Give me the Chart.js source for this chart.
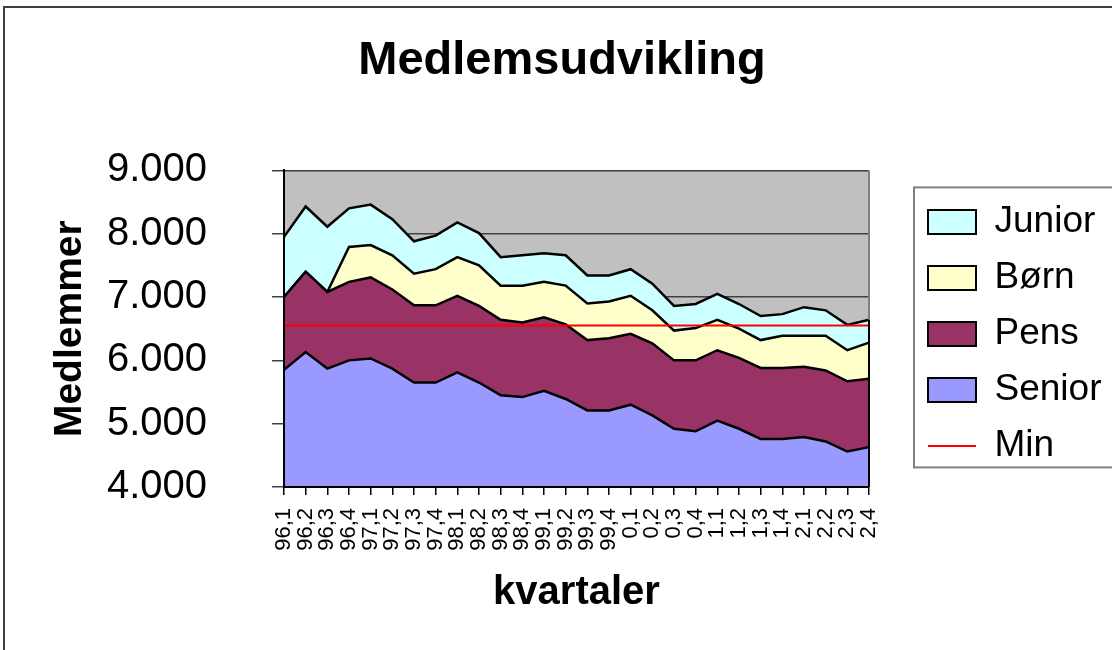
<!DOCTYPE html>
<html lang="da">
<head>
<meta charset="utf-8">
<title>Medlemsudvikling</title>
<script src="https://cdn.jsdelivr.net/npm/chart.js@4.4.1/dist/chart.umd.min.js"></script>
<style>
  html, body { margin: 0; padding: 0; background: #fff; }
  #wrap { width: 1112px; height: 650px; position: relative; }
</style>
</head>
<body>
<div id="wrap"><canvas id="chart"></canvas></div>
<script>
// Quarters (year,quarter)
const quarters = ['96,1', '96,2', '96,3', '96,4', '97,1', '97,2', '97,3', '97,4',
                  '98,1', '98,2', '98,3', '98,4', '99,1', '99,2', '99,3', '99,4',
                  '0,1', '0,2', '0,3', '0,4', '1,1', '1,2', '1,3', '1,4',
                  '2,1', '2,2', '2,3', '2,4'];

// Members per group (stacked, bottom to top)
const senior = [5850, 6130, 5870, 6000, 6030, 5870, 5650, 5650, 5810, 5650, 5450, 5420, 5520, 5390,
                5210, 5210, 5300, 5130, 4920, 4880, 5050, 4920, 4760, 4760, 4790, 4720, 4560, 4630];
const pens   = [1150, 1270, 1210, 1240, 1280, 1250, 1220, 1220, 1210, 1210, 1190, 1180, 1160, 1180,
                1110, 1140, 1120, 1140, 1080, 1120, 1110, 1120, 1120, 1120, 1110, 1120, 1110, 1080];
const born   = [0, 0, 0, 550, 510, 540, 500, 570, 610, 640, 540, 580, 560, 610,
                580, 580, 600, 520, 470, 510, 480, 460, 440, 510, 490, 550, 490, 570];
const junior = [950, 1030, 1030, 610, 640, 570, 510, 530, 550, 510, 450, 480, 450, 480,
                440, 410, 420, 420, 390, 380, 410, 390, 380, 340, 450, 400, 400, 360];
// Minimum level line
const minLevel = [6550, 6550, 6550, 6550, 6550, 6550, 6550, 6550, 6550, 6550, 6550, 6550, 6550, 6550,
                  6550, 6550, 6550, 6550, 6550, 6550, 6550, 6550, 6550, 6550, 6550, 6550, 6550, 6550];

const legendOrder = ['Junior', 'Børn', 'Pens', 'Senior', 'Min'];
const yMin = 4000, yMax = 9000, yStep = 1000;

const FONT = "'Liberation Sans', Arial, Helvetica, sans-serif";

// 9000 -> "9.000"
const fmtThousands = v => String(v).replace(/\B(?=(\d{3})+(?!\d))/g, '.');

const area = (label, data, color, fill) => ({
    label, data, fill,
    backgroundColor: color,
    borderColor: '#000',
    borderWidth: 2.5,
    tension: 0,
    pointRadius: 0,
    pointHoverRadius: 0,
    pointStyle: 'rect',
    pointBorderWidth: 2,
    stack: 'members'
});

// Excel-like frame: grey plot area, outer border, legend box, right edge
const framePlugin = {
    id: 'frame',
    afterLayout(chart) {
        const a = chart.chartArea;
        const lg = chart.legend;
        lg.left = a.right + 40;
        lg.right = chart.width + 20;   // let the clipped legend run off the canvas
        lg.top = a.top + 14;
        lg.bottom = lg.top + lg.height;
        const tb = chart.titleBlock;
        const half = tb.width / 2;
        tb.left = chart.width / 2 + 6 - half;
        tb.right = chart.width / 2 + 6 + half;
    },
    beforeDraw(chart) {
        const {ctx, chartArea: a, width, height} = chart;
        ctx.save();
        ctx.fillStyle = '#fff';
        ctx.fillRect(0, 0, width, height);
        ctx.fillStyle = '#c0c0c0';
        ctx.fillRect(a.left, a.top, a.right - a.left, a.bottom - a.top);
        ctx.strokeStyle = '#404040';
        ctx.lineWidth = 2;
        ctx.strokeRect(4, 7, width + 40, height + 40);
        ctx.restore();
    },
    afterDatasetsDraw(chart) {
        const {ctx, chartArea: a} = chart;
        const topMeta = chart.getDatasetMeta(4);
        const last = topMeta.data[topMeta.data.length - 1];
        ctx.save();
        ctx.lineWidth = 2;
        ctx.strokeStyle = '#808080';
        ctx.beginPath();
        ctx.moveTo(a.right, a.top);
        ctx.lineTo(a.right, last.y);
        ctx.stroke();
        ctx.strokeStyle = '#000';
        ctx.beginPath();
        ctx.moveTo(a.right, last.y);
        ctx.lineTo(a.right, a.bottom);
        ctx.stroke();
        ctx.restore();
    },
    afterDraw(chart) {
        const {ctx} = chart;
        const lg = chart.legend;
        ctx.save();
        ctx.strokeStyle = '#808080';
        ctx.lineWidth = 2;
        ctx.strokeRect(lg.left + 5, lg.top + 3, 300, 280);
        ctx.restore();
    }
};

new Chart(document.getElementById('chart'), {
    type: 'line',
    data: {
        labels: quarters,
        datasets: [
            {
                label: 'Min',
                data: minLevel,
                borderColor: '#ff0000',
                backgroundColor: '#ff0000',
                borderWidth: 2,
                fill: false,
                tension: 0,
                pointRadius: 0,
                pointHoverRadius: 0,
                pointStyle: 'line',
                pointBorderWidth: 2,
                stack: 'min'
            },
            area('Senior', senior, '#9999ff', 'origin'),
            area('Pens', pens, '#993366', '-1'),
            area('Børn', born, '#ffffcc', '-1'),
            area('Junior', junior, '#ccffff', '-1')
        ]
    },
    options: {
        responsive: true,
        maintainAspectRatio: false,
        animation: false,
        devicePixelRatio: 1,
        layout: { padding: { left: 0, top: 0, right: 53, bottom: 0 } },
        plugins: {
            title: {
                display: true,
                text: 'Medlemsudvikling',
                color: '#000',
                font: { family: FONT, size: 47, weight: 'bold' },
                padding: { top: 33, bottom: 81 }
            },
            legend: {
                position: 'right',
                align: 'start',
                maxWidth: 190,
                labels: {
                    color: '#000',
                    font: { family: FONT, size: 37 },
                    padding: 19,
                    usePointStyle: true,
                    pointStyleWidth: 48,
                    boxHeight: 24,
                    sort: (a, b) => legendOrder.indexOf(a.text) - legendOrder.indexOf(b.text)
                }
            },
            tooltip: { enabled: false }
        },
        scales: {
            x: {
                grid: { drawOnChartArea: false, color: '#000', tickLength: 8, lineWidth: 1.5 },
                border: { color: '#000', width: 2, z: 1 },
                ticks: {
                    autoSkip: false,
                    minRotation: 90,
                    maxRotation: 90,
                    padding: 13,
                    color: '#000',
                    font: { family: FONT, size: 22 }
                },
                title: {
                    display: true,
                    text: 'kvartaler',
                    color: '#000',
                    font: { family: FONT, size: 40, weight: 'bold' },
                    padding: { top: 0, bottom: 33 }
                },
                afterFit: s => { s.height = 163; }
            },
            y: {
                stacked: true,
                min: yMin,
                max: yMax,
                grid: { color: '#404040', lineWidth: 1.5, tickLength: 12 },
                border: { color: '#000', width: 2, z: 1 },
                ticks: {
                    stepSize: yStep,
                    padding: 65,
                    color: '#000',
                    font: { family: FONT, size: 40 },
                    callback: v => fmtThousands(v)
                },
                title: {
                    display: true,
                    text: 'Medlemmer',
                    color: '#000',
                    font: { family: FONT, size: 39, weight: 'bold' },
                    padding: { top: 47, bottom: 0 }
                },
                afterFit: s => { s.width = 284; }
            }
        }
    },
    plugins: [framePlugin]
});
</script>
</body>
</html>
